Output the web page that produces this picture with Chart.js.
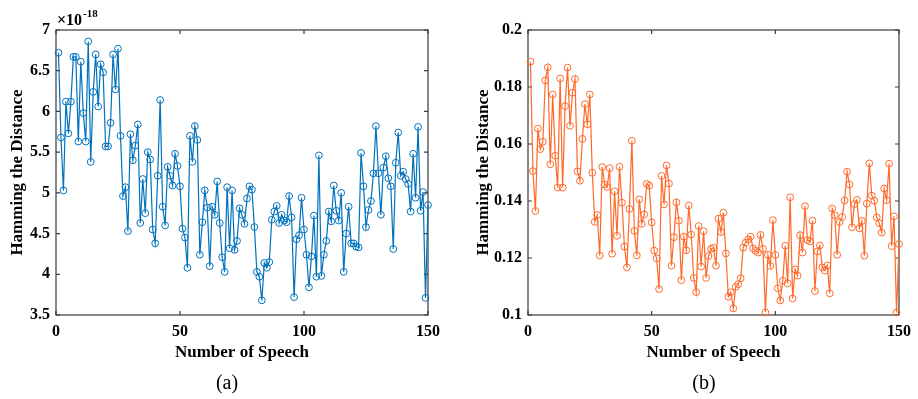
<!DOCTYPE html>
<html>
<head>
<meta charset="utf-8">
<script src="https://cdn.jsdelivr.net/npm/chart.js@4.4.1/dist/chart.umd.min.js"></script>
<style>
  html, body { margin: 0; padding: 0; background: #fff; }
  #wrap { position: relative; width: 918px; height: 399px; overflow: hidden; }
  .pane { position: absolute; top: 0; width: 459px; height: 399px; }
  .cap { position: absolute; top: 371px; width: 80px; text-align: center;
         font: 20px "Liberation Serif", serif; color: #000; }
</style>
</head>
<body>
<div id="wrap">
  <div class="pane" style="left:0"><canvas id="chartA" width="459" height="399"></canvas></div>
  <div class="pane" style="left:459px"><canvas id="chartB" width="459" height="399"></canvas></div>
  <div class="cap" style="left:187px">(a)</div>
  <div class="cap" style="left:664px">(b)</div>
</div>
<script>
  // values of panel (a) are in units of 1e-18
  const hammingA = [
    6.72, 5.68, 5.03, 6.12, 5.73, 6.12, 6.67, 6.67, 5.63, 6.61,
    5.98, 5.63, 6.86, 5.38, 6.24, 6.70, 6.06, 6.58, 6.48, 5.57,
    5.57, 5.86, 6.70, 6.27, 6.77, 5.70, 4.96, 5.07, 4.53, 5.72,
    5.40, 5.58, 5.84, 4.63, 5.17, 4.75, 5.50, 5.41, 4.55, 4.38,
    5.21, 6.14, 4.83, 4.60, 5.32, 5.21, 5.09, 5.48, 5.33, 5.08,
    4.56, 4.45, 4.08, 5.70, 5.38, 5.82, 5.65, 4.24, 4.64, 5.03,
    4.82, 4.10, 4.83, 4.73, 5.14, 4.63, 4.21, 4.03, 5.07, 4.32,
    5.03, 4.30, 4.41, 4.81, 4.73, 4.62, 4.93, 5.08, 5.04, 4.58,
    4.03, 3.97, 3.68, 4.14, 4.08, 4.15, 4.67, 4.77, 4.84, 4.63,
    4.73, 4.66, 4.64, 4.96, 4.70, 3.72, 4.43, 4.48, 4.94, 4.55,
    4.24, 3.84, 4.22, 4.72, 3.97, 5.46, 3.98, 4.24, 4.41, 4.77,
    4.65, 5.09, 4.78, 4.66, 5.00, 4.03, 4.50, 4.83, 4.38, 4.38,
    4.34, 4.33, 5.49, 5.08, 4.58, 4.79, 4.90, 5.24, 5.82, 5.24,
    4.73, 5.31, 5.45, 5.18, 5.08, 4.31, 5.37, 5.74, 5.21, 5.26,
    5.17, 5.11, 4.77, 5.48, 4.94, 5.81, 4.78, 5.01, 3.71, 4.85
  ];
  const hammingB = [
    0.1889, 0.1505, 0.1365, 0.1654, 0.1582, 0.1608, 0.1823, 0.1869, 0.1529, 0.1774,
    0.1559, 0.1447, 0.1830, 0.1447, 0.1733, 0.1868, 0.1664, 0.1780, 0.1828, 0.1504,
    0.1471, 0.1618, 0.1740, 0.1669, 0.1774, 0.1499, 0.1327, 0.1351, 0.1209, 0.1519,
    0.1458, 0.1449, 0.1515, 0.1215, 0.1434, 0.1278, 0.1520, 0.1394, 0.1240, 0.1167,
    0.1372, 0.1611, 0.1295, 0.1209, 0.1406, 0.1320, 0.1353, 0.1460, 0.1454, 0.1325,
    0.1226, 0.1199, 0.1091, 0.1488, 0.1388, 0.1525, 0.1461, 0.1173, 0.1273, 0.1395,
    0.1331, 0.1122, 0.1275, 0.1227, 0.1384, 0.1282, 0.1130, 0.1080, 0.1312, 0.1170,
    0.1294, 0.1130, 0.1207, 0.1232, 0.1236, 0.1173, 0.1338, 0.1291, 0.1359, 0.1216,
    0.1064, 0.1080, 0.1023, 0.1099, 0.1108, 0.1129, 0.1236, 0.1254, 0.1265, 0.1275,
    0.1234, 0.1225, 0.1219, 0.1281, 0.1232, 0.1009, 0.1211, 0.1172, 0.1333, 0.1211,
    0.1094, 0.1051, 0.1120, 0.1243, 0.1111, 0.1413, 0.1058, 0.1160, 0.1138, 0.1280,
    0.1219, 0.1382, 0.1263, 0.1258, 0.1331, 0.1084, 0.1223, 0.1244, 0.1167, 0.1156,
    0.1174, 0.1076, 0.1374, 0.1350, 0.1211, 0.1326, 0.1344, 0.1402, 0.1503, 0.1458,
    0.1308, 0.1389, 0.1404, 0.1304, 0.1330, 0.1208, 0.1391, 0.1532, 0.1419, 0.1401,
    0.1343, 0.1322, 0.1289, 0.1444, 0.1403, 0.1531, 0.1242, 0.1346, 0.1009, 0.1249
  ];
  const speechNo = hammingA.map((_, i) => i + 1);

  const xTicks = [0, 50, 100, 150];
  const yTicksA = [3.5, 4, 4.5, 5, 5.5, 6, 6.5, 7];
  const yTicksB = [0.1, 0.12, 0.14, 0.16, 0.18, 0.2];

  const xTitle = 'Number of Speech';
  const yTitle = 'Hamming the Distance';

  Chart.defaults.font.family = '"Liberation Serif", "Times New Roman", serif';
  Chart.defaults.font.weight = 'bold';
  Chart.defaults.color = '#000';

  // matlab style box with inward ticks on all four sides
  const frameTicks = {
    id: 'frameTicks',
    beforeDatasetsDraw(chart) {
      const { ctx, chartArea: a, scales: { x, y } } = chart;
      const len = 4;
      ctx.save();
      ctx.strokeStyle = '#3a3a3a';
      ctx.lineWidth = 1.2;
      ctx.strokeRect(a.left, a.top, a.right - a.left, a.bottom - a.top);
      ctx.beginPath();
      x.ticks.forEach(t => {
        const px = x.getPixelForValue(t.value);
        ctx.moveTo(px, a.bottom); ctx.lineTo(px, a.bottom - len);
        ctx.moveTo(px, a.top); ctx.lineTo(px, a.top + len);
      });
      y.ticks.forEach(t => {
        const py = y.getPixelForValue(t.value);
        ctx.moveTo(a.left, py); ctx.lineTo(a.left + len, py);
        ctx.moveTo(a.right, py); ctx.lineTo(a.right - len, py);
      });
      ctx.stroke();
      ctx.restore();
    },
    afterDraw(chart, args, opts) {
      if (!opts.exponent) return;
      const { ctx, chartArea: a } = chart;
      ctx.save();
      ctx.fillStyle = '#000';
      ctx.textBaseline = 'alphabetic';
      ctx.font = 'bold 16px "Liberation Serif", serif';
      const base = '\u00d710';
      ctx.fillText(base, a.left + 1, 25);
      const w = ctx.measureText(base).width;
      ctx.font = 'bold 11px "Liberation Serif", serif';
      ctx.fillText(opts.exponent, a.left + 1 + w + 1, 17);
      ctx.restore();
    }
  };

  function makeChart(id, values, color, yMin, yMax, yTicks, yAxisWidth, padRight, exponent, titlePad) {
    return new Chart(document.getElementById(id), {
      type: 'line',
      data: {
        datasets: [{
          data: speechNo.map((n, i) => ({ x: n, y: values[i] })),
          borderColor: color,
          borderWidth: 1.2,
          pointStyle: 'circle',
          pointRadius: 3.4,
          pointBorderWidth: 1,
          pointBorderColor: color,
          pointBackgroundColor: 'rgba(0,0,0,0)',
          pointHoverRadius: 3.4,
          tension: 0,
          clip: false
        }]
      },
      options: {
        responsive: false,
        animation: false,
        layout: { padding: { top: 30, right: padRight, bottom: 34, left: 0 } },
        plugins: {
          legend: { display: false },
          tooltip: { enabled: false },
          frameTicks: { exponent: exponent }
        },
        scales: {
          x: {
            type: 'linear',
            min: 0, max: 150,
            afterBuildTicks: s => { s.ticks = xTicks.map(v => ({ value: v })); },
            afterFit: s => { s.height = 50; },
            grid: { display: false, drawTicks: false },
            border: { display: false },
            ticks: { font: { size: 16 }, padding: 7, maxRotation: 0 },
            title: { display: true, text: xTitle, font: { size: 17 }, padding: { top: 0, bottom: 2 } }
          },
          y: {
            type: 'linear',
            min: yMin, max: yMax,
            afterBuildTicks: s => { s.ticks = yTicks.map(v => ({ value: v })); },
            afterFit: s => { s.width = yAxisWidth; },
            grid: { display: false, drawTicks: false },
            border: { display: false },
            ticks: { font: { size: 16 }, padding: 6, callback: v => String(+v.toFixed(2)) },
            title: { display: true, text: yTitle, font: { size: 17 }, padding: { top: titlePad, bottom: 0 } }
          }
        }
      },
      plugins: [frameTicks]
    });
  }

  makeChart('chartA', hammingA, '#0072BD', 3.5, 7, yTicksA, 56, 31, '-18', 7);
  makeChart('chartB', hammingB, '#FF6A2B', 0.1, 0.2, yTicksB, 69, 18, null, 14);
</script>
</body>
</html>
